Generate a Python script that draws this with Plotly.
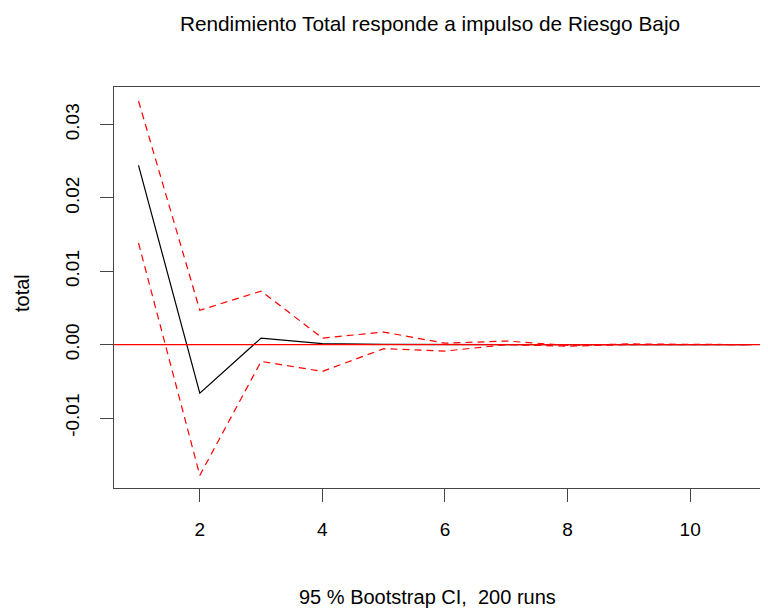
import plotly.graph_objects as go

# impulse response horizons and values
horizon = [1, 2, 3, 4, 5, 6, 7, 8, 9, 10, 11]
irf = [0.02445, -0.0066, 0.0009, 0.00014, 0.00003, 0.0, 0.0, 0.0, 0.0, 0.0, 0.0]
upper = [0.03322, 0.00468, 0.00731, 0.0009, 0.00172, 0.0002, 0.0005, -0.0001, 0.0001, 0.0, 0.0]
lower = [0.01386, -0.01782, -0.00228, -0.00364, -0.00055, -0.00087, 0.0, -0.0002, 0.0, 0.0, 0.0]
x_ticks = [2, 4, 6, 8, 10]
y_ticks = [-0.01, 0.0, 0.01, 0.02, 0.03]

font_family = "Liberation Sans, Arial, sans-serif"

# the page body keeps an 8px margin, so the figure is 8px smaller each way
W, H = 760, 603

fig = go.Figure()

fig.add_trace(go.Scatter(x=horizon, y=irf, mode="lines",
                         line=dict(color="black", width=1.2)))
fig.add_trace(go.Scatter(x=horizon, y=upper, mode="lines",
                         line=dict(color="#ff0000", width=1.2, dash="7px,5px")))
fig.add_trace(go.Scatter(x=horizon, y=lower, mode="lines",
                         line=dict(color="#ff0000", width=1.2, dash="7px,5px")))
# zero reference line drawn last, like abline(h=0)
fig.add_trace(go.Scatter(x=[0.6, 11.4], y=[0, 0], mode="lines",
                         line=dict(color="#ff0000", width=1.2)))

fig.update_layout(
    width=W, height=H,
    margin=dict(l=106, r=0, t=79, b=123),
    plot_bgcolor="white", paper_bgcolor="white",
    showlegend=False,
    font=dict(family=font_family, color="black"),
    title=dict(text="Rendimiento Total responde a impulso de Riesgo Bajo",
               x=(430 - 8) / W, xanchor="center",
               y=1 - (24 - 8) / H, yanchor="middle",
               font=dict(size=20.8)),
)

fig.update_xaxes(
    range=[0.6, 11.27], tickvals=x_ticks, ticktext=[str(t) for t in x_ticks],
    showgrid=False, zeroline=False,
    showline=True, linecolor="#444", linewidth=1.3, mirror=True,
    ticks="outside", ticklen=13, tickcolor="#444", tickwidth=1.3,
    tickfont=dict(size=19), ticklabelstandoff=11,
)
fig.update_yaxes(
    range=[-0.01954, 0.03513], tickvals=y_ticks,
    ticktext=["-0.01", "0.00", "0.01", "0.02", "0.03"],
    showgrid=False, zeroline=False,
    showline=True, linecolor="#444", linewidth=1.3, mirror=False,
    ticks="outside", ticklen=13, tickcolor="#444", tickwidth=1.3,
    tickfont=dict(size=19), tickangle=-90, ticklabelstandoff=13,
)

fig.add_annotation(text="95 % Bootstrap CI,  200 runs", showarrow=False,
                   xref="paper", yref="paper",
                   x=(427 - 114) / 654, y=-(597 - 488) / 401,
                   xanchor="center", yanchor="middle", font=dict(size=20))
fig.add_annotation(text="total", showarrow=False, textangle=-90,
                   xref="paper", yref="paper",
                   x=(22 - 114) / 654, y=(488 - 293) / 401,
                   xanchor="center", yanchor="middle", font=dict(size=20))

fig.write_html("out.html")
